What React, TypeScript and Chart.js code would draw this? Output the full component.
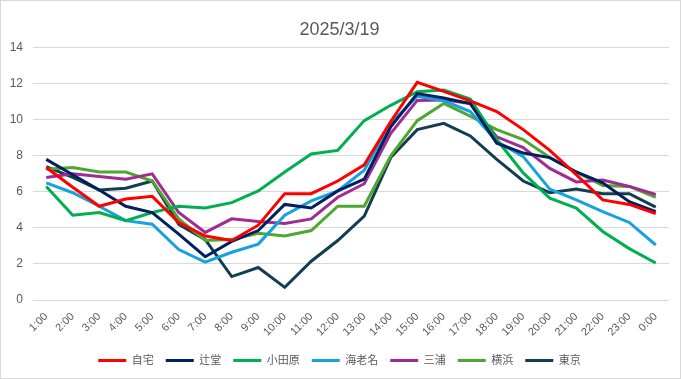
import React, { useEffect, useRef } from "react";
import { Chart, registerables } from "chart.js";

Chart.register(...registerables);

const TITLE = "2025/3/19";
const HOURS = ["1:00","2:00","3:00","4:00","5:00","6:00","7:00","8:00","9:00","10:00","11:00","12:00","13:00","14:00","15:00","16:00","17:00","18:00","19:00","20:00","21:00","22:00","23:00","0:00"];

const JITAKU = [7.35, 6.25, 5.2, 5.6, 5.75, 4.3, 3.55, 3.3, 4.15, 5.9, 5.9, 6.6, 7.5, 9.9, 12.07, 11.57, 11.05, 10.45, 9.45, 8.3, 6.95, 5.55, 5.3, 4.8];
const TSUJIDO = [7.8, 6.95, 6.1, 5.2, 4.85, 3.65, 2.4, 3.25, 3.85, 5.3, 5.1, 6.05, 6.7, 9.6, 11.45, 11.2, 10.9, 8.7, 8.15, 7.9, 7.1, 6.5, 5.45, 4.9];
const ODAWARA = [6.3, 4.7, 4.85, 4.4, 4.85, 5.2, 5.1, 5.4, 6.05, 7.1, 8.1, 8.3, 9.95, 10.8, 11.55, 11.65, 11.15, 8.9, 7.05, 5.65, 5.1, 3.8, 2.85, 2.05];
const EBINA = [6.5, 5.95, 5.2, 4.4, 4.2, 2.8, 2.1, 2.65, 3.1, 4.7, 5.5, 6.05, 7.2, 9.8, 11.3, 11.05, 10.45, 8.8, 7.95, 6.15, 5.55, 4.9, 4.3, 3.05];
const MIURA = [6.8, 7.0, 6.85, 6.7, 7.0, 4.85, 3.75, 4.5, 4.35, 4.25, 4.5, 5.7, 6.45, 9.25, 11.07, 11.1, 10.9, 9.05, 8.45, 7.3, 6.55, 6.65, 6.3, 5.85];
const YOKOHAMA = [7.25, 7.35, 7.1, 7.1, 6.6, 4.5, 3.3, 3.35, 3.7, 3.55, 3.85, 5.2, 5.2, 8.0, 9.95, 10.9, 10.2, 9.45, 8.9, 7.9, 7.1, 6.35, 6.3, 5.7];
const TOKYO = [7.4, 6.8, 6.1, 6.2, 6.6, 4.2, 3.35, 1.3, 1.8, 0.7, 2.15, 3.3, 4.65, 7.9, 9.45, 9.8, 9.1, 7.8, 6.6, 5.95, 6.15, 5.9, 5.9, 5.15];

const SERIES_NAMES = ["自宅", "辻堂", "小田原", "海老名", "三浦", "横浜", "東京"];
const SERIES_VALUES = [JITAKU, TSUJIDO, ODAWARA, EBINA, MIURA, YOKOHAMA, TOKYO];
const SERIES_COLORS = ["#FF0000", "#002060", "#00B050", "#16A2DE", "#A02B93", "#4EA72E", "#133D52"];

const Y_MIN = 0;
const Y_MAX = 14;
const Y_STEP = 2;

const FONT = "'Liberation Sans', 'Noto Sans CJK JP', sans-serif";
const TEXT = "#595959";

export default function App() {
  const ref = useRef<HTMLCanvasElement | null>(null);

  useEffect(() => {
    document.body.style.margin = "0";
    if (!ref.current) return;
    const chart = new Chart(ref.current, {
      type: "line",
      data: {
        labels: HOURS,
        datasets: SERIES_NAMES.map((name, i) => ({
          label: name,
          data: SERIES_VALUES[i],
          borderColor: SERIES_COLORS[i],
          backgroundColor: SERIES_COLORS[i],
          borderWidth: 3,
          pointRadius: 0,
          pointHoverRadius: 0,
          tension: 0,
          fill: false,
        })),
      },
      options: {
        animation: false,
        responsive: false,
        maintainAspectRatio: false,
        layout: { autoPadding: false, padding: { left: 9, right: 11, top: 10, bottom: 2 } },
        plugins: {
          title: {
            display: true,
            text: TITLE,
            color: TEXT,
            font: { family: FONT, size: 18, weight: "normal" },
            padding: { top: 8, bottom: 7 },
          },
          legend: {
            position: "bottom",
            labels: {
              color: TEXT,
              font: { family: FONT, size: 11 },
              usePointStyle: true,
              pointStyle: "line",
              pointStyleWidth: 28,
              boxHeight: 11,
              padding: 12,
            },
          },
          tooltip: { enabled: false },
        },
        scales: {
          x: {
            offset: true,
            grid: { display: false, drawTicks: false },
            border: { display: false },
            ticks: {
              color: TEXT,
              font: { family: FONT, size: 11 },
              minRotation: 45,
              maxRotation: 45,
              autoSkip: false,
              padding: 10,
            },
            afterFit: (scale: any) => {
              scale.paddingLeft = 0;
              scale.paddingRight = 0;
              scale.height = 43;
            },
          },
          y: {
            min: Y_MIN,
            max: Y_MAX,
            grid: { color: "#D9D9D9", drawTicks: false, lineWidth: 1 },
            border: { display: false },
            ticks: {
              stepSize: Y_STEP,
              color: TEXT,
              font: { family: FONT, size: 12 },
              padding: 10,
            },
            afterFit: (scale: any) => {
              scale.width = 23;
            },
          },
        },
      },
    });
    return () => chart.destroy();
  }, []);

  return (
    <div style={{ position: "fixed", left: 0, top: 0, width: 681, height: 379, boxSizing: "border-box", border: "1px solid #D9D9D9", background: "#fff" }}>
      <canvas ref={ref} width={679} height={377} style={{ display: "block" }} />
    </div>
  );
}
